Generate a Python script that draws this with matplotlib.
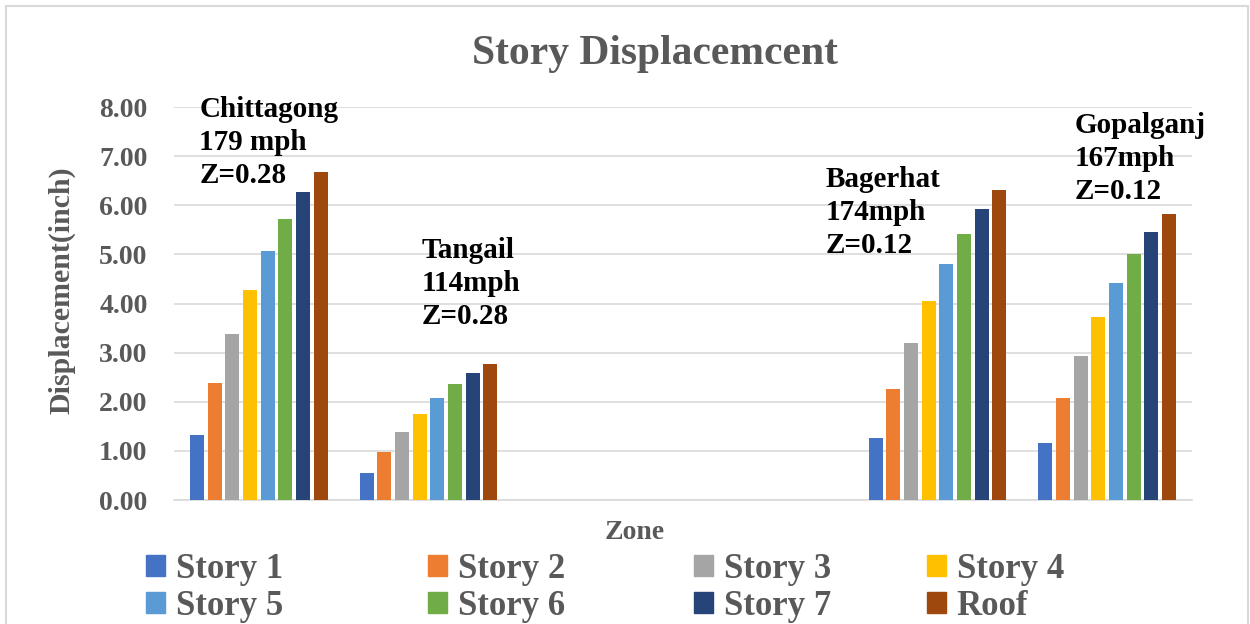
import numpy as np
import matplotlib.pyplot as plt
from matplotlib.patches import Patch, Rectangle
from matplotlib.font_manager import FontProperties

# zones on the x axis (two empty slots in the middle, as in the original sheet)
zones = ['Chittagong', 'Tangail', '', '', 'Bagerhat', 'Gopalganj']
series = ['Story 1', 'Story 2', 'Story 3', 'Story 4', 'Story 5', 'Story 6', 'Story 7', 'Roof']
colors = ['#4472c4', '#ed7d31', '#a5a5a5', '#ffc000', '#5b9bd5', '#70ad47', '#264478', '#9e480e']

story1 = [1.32, 0.54, np.nan, np.nan, 1.26, 1.16]
story2 = [2.39, 0.97, np.nan, np.nan, 2.26, 2.08]
story3 = [3.38, 1.38, np.nan, np.nan, 3.20, 2.94]
story4 = [4.28, 1.76, np.nan, np.nan, 4.05, 3.73]
story5 = [5.07, 2.08, np.nan, np.nan, 4.80, 4.42]
story6 = [5.73, 2.36, np.nan, np.nan, 5.42, 5.00]
story7 = [6.27, 2.59, np.nan, np.nan, 5.93, 5.46]
roof = [6.67, 2.76, np.nan, np.nan, 6.31, 5.82]
values = [story1, story2, story3, story4, story5, story6, story7, roof]

notes = ['Chittagong\n179 mph\nZ=0.28', 'Tangail\n114mph\nZ=0.28',
         'Bagerhat\n174mph\nZ=0.12', 'Gopalganj\n167mph\nZ=0.12']
note_pos = [(-0.35, 8.22), (0.96, 5.36), (3.34, 6.80), (4.81, 7.90)]

grey = '#595959'
serif = 'Liberation Serif'

fig = plt.figure(figsize=(12.5, 6.24), dpi=100)
ax = fig.add_axes([0.1392, 0.1987, 0.8144, 0.6298])

x = np.arange(len(zones))
pitch = 0.104
for i, (vals, c) in enumerate(zip(values, colors)):
    off = (i - 3.5) * pitch
    ax.bar(x + off, vals, width=0.083, color=c, zorder=3)

ax.set_xlim(-0.5, len(zones) - 0.5)
ax.set_ylim(0, 8)
ax.set_yticks(np.arange(0, 9, 1))
ax.set_yticklabels([f'{v:.2f}' for v in np.arange(0, 9, 1)],
                   fontfamily=serif, fontweight='bold', fontsize=20, color=grey)
ax.set_xticks([])
ax.tick_params(axis='y', length=0, pad=19)
ax.grid(axis='y', color='#d9d9d9', linewidth=1.2, zorder=0)
for s in ['top', 'right', 'left']:
    ax.spines[s].set_visible(False)
ax.spines['bottom'].set_color('#d9d9d9')
ax.spines['bottom'].set_linewidth(1.2)

ax.set_ylabel('Displacement(inch)', fontfamily=serif, fontweight='bold',
              fontsize=21.5, color=grey)
ax.yaxis.set_label_coords(-0.097, 0.534)
ax.set_xlabel('Zone', fontfamily=serif, fontweight='bold', fontsize=20, color=grey)
ax.xaxis.set_label_coords((635 - 174) / 1018, -0.052)

fig.text(0.524, 0.913, 'Story Displacemcent', ha='center', va='center',
         fontfamily=serif, fontweight='bold', fontsize=30, color=grey)

for t, (px, py) in zip(notes, note_pos):
    ax.text(px, py, t, ha='left', va='top', fontfamily=serif, fontweight='bold',
            fontsize=21, color='black', linespacing=1.29, zorder=5)

# legend: four columns placed like the original
legfont = FontProperties(family=serif, weight='bold', size=25)
col_x = [146, 428, 694, 927]
for j in range(4):
    h = [Patch(color=colors[j]), Patch(color=colors[j + 4])]
    lab = [series[j], series[j + 4]]
    leg = fig.legend(h, lab, loc='upper left',
                     bbox_to_anchor=(col_x[j] / 1250, 1 - 553 / 624),
                     frameon=False, handlelength=0.55, handleheight=0.55,
                     handletextpad=0.3, labelspacing=0.12, borderpad=0,
                     borderaxespad=0, prop=legfont)
    for txt in leg.get_texts():
        txt.set_color(grey)

fig.patches.append(Rectangle((6 / 1250, -0.1), 1242 / 1250, 1.1 - 6 / 624,
                             transform=fig.transFigure, fill=False,
                             edgecolor='#d9d9d9', linewidth=1.5))

fig.savefig('out.png', dpi=100)
